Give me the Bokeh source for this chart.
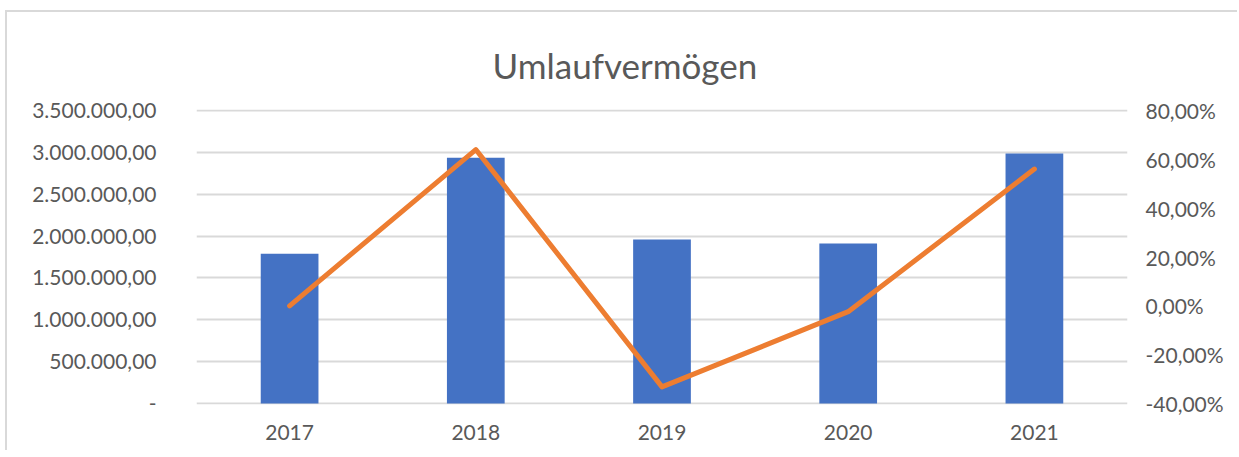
from bokeh.plotting import figure
from bokeh.models import (Range1d, FactorRange, LinearAxis, FixedTicker, ColumnDataSource)
from bokeh.embed import file_html
from bokeh.resources import INLINE

years = ["2017", "2018", "2019", "2020", "2021"]
umlauf = [1790000, 2935000, 1960000, 1910000, 2985000]
growth_pct = [0.0, 64.0, -33.2, -2.4, 56.0]

left_ticks = [0, 500000, 1000000, 1500000, 2000000, 2500000, 3000000, 3500000]
right_ticks = [-40, -20, 0, 20, 40, 60, 80]

FONT = "Lato"
GREY = "#595959"

def de_num(v):
    if v == 0:
        return "-"
    s = f"{v:,.2f}"
    return s.replace(",", "X").replace(".", ",").replace("X", ".")

def de_pct(v):
    return f"{v:.2f}".replace(".", ",") + "%"

src = ColumnDataSource(dict(year=years, val=umlauf, pct=growth_pct))

# canvas origin at (7, 12) because of margin + border
p = figure(width=1232, height=440, x_range=FactorRange(*years, range_padding=0),
           y_range=Range1d(-12000, 3512000), output_backend="svg", toolbar_location=None,
           min_border_left=189, min_border_right=112, min_border_top=97, min_border_bottom=48,
           styles={"margin-left": "5px", "margin-top": "10px",
                   "border-top": "2px solid #D9D9D9", "border-left": "2px solid #D9D9D9"})
p.extra_y_ranges = {"pct": Range1d(-40.41, 80.41)}

p.vbar(x="year", top="val", width=0.31, source=src, color="#4472C4", line_color=None)
p.line(x="year", y="pct", source=src, y_range_name="pct", line_color="#ED7D31",
       line_width=5, line_cap="round", line_join="round")

p.outline_line_color = None
p.xgrid.grid_line_color = None
p.ygrid.grid_line_color = "#D9D9D9"
p.ygrid.grid_line_width = 2
p.ygrid.ticker = FixedTicker(ticks=left_ticks)

yl = p.yaxis[0]
yl.ticker = FixedTicker(ticks=left_ticks)
yl.major_label_overrides = {t: de_num(t) for t in left_ticks}

yr = LinearAxis(y_range_name="pct", ticker=FixedTicker(ticks=right_ticks))
yr.major_label_overrides = {t: de_pct(t) for t in right_ticks}
p.add_layout(yr, "right")

for ax in [p.xaxis[0], yl, yr]:
    ax.axis_line_color = None
    ax.major_tick_line_color = None
    ax.minor_tick_line_color = None
    ax.major_tick_out = 0
    ax.major_tick_in = 0
    ax.minor_tick_out = 0
    ax.major_label_text_font = FONT
    ax.major_label_text_font_size = "21px"
    ax.major_label_text_color = GREY
yl.major_label_standoff = 40
yr.major_label_standoff = 18
p.xaxis[0].major_label_standoff = 20

p.title.text = "Umlaufvermögen"
p.title.text_font = FONT
p.title.text_font_size = "35px"
p.title.text_font_style = "normal"
p.title.text_color = GREY
p.title.align = "left"
p.title.offset = 296
p.title.standoff = 48

open("out.html", "w").write(file_html(p, INLINE))
